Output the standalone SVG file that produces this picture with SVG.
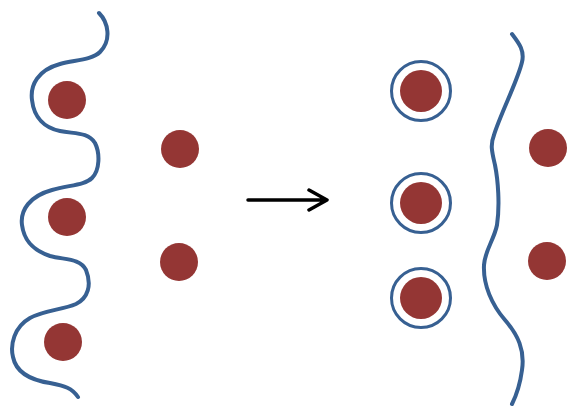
<svg xmlns="http://www.w3.org/2000/svg" width="571" height="410" viewBox="0 0 571 410">
<style>
.dot{fill:#943634}
.ring{fill:none;stroke:#376092;stroke-width:3}
.wave{fill:none;stroke:#376092;stroke-width:4;stroke-linecap:round}
.arr{fill:none;stroke:#000;stroke-width:3.5;stroke-linecap:round;stroke-linejoin:round}
</style>
<rect width="571" height="410" fill="#fff"/>
<g id="left-membrane">
<path class="wave" d="M99,13 C108,22 112,40 100,52 C92,60 75,60 60,64 C38,70 30,85 32,100 C34,118 45,128 60,131 C75,134 88,132 95,143 C100,153 100,170 92,178 C85,185 70,185 52,190 C30,196 20,210 22,225 C24,240 32,250 50,256 C65,260 80,258 86,270 C92,285 88,298 76,304 C62,310 45,310 30,318 C14,327 10,345 13,357 C16,372 30,380 50,383 C65,386 72,388 78,397"/>
</g>
<g id="left-dot-1"><circle class="dot" cx="67" cy="100" r="19"/></g>
<g id="left-dot-2"><circle class="dot" cx="67" cy="217" r="19"/></g>
<g id="left-dot-3"><circle class="dot" cx="63" cy="342" r="19"/></g>
<g id="mid-dot-1"><circle class="dot" cx="180" cy="149" r="19"/></g>
<g id="mid-dot-2"><circle class="dot" cx="179" cy="262" r="19"/></g>
<g id="connectors">
<path class="arr" d="M248,200 H326 M309,190 L327,200 L309,210"/>
</g>
<g id="ringed-dot-1"><circle class="ring" cx="421" cy="91" r="29.5"/><circle class="dot" cx="421" cy="91" r="21"/></g>
<g id="ringed-dot-2"><circle class="ring" cx="421" cy="203" r="29.5"/><circle class="dot" cx="421" cy="203" r="21"/></g>
<g id="ringed-dot-3"><circle class="ring" cx="421" cy="298" r="29.5"/><circle class="dot" cx="421" cy="298" r="21"/></g>
<g id="right-membrane">
<path class="wave" d="M512,34 C518,42 525,50 522,62 C518,80 500,115 494,135 C490,145 492,152 495,165 C498,180 500,205 497,225 C494,240 485,250 484,265 C483,285 492,305 505,320 C518,335 525,350 522,370 C520,385 515,398 512,404"/>
</g>
<g id="right-dot-1"><circle class="dot" cx="548" cy="148" r="19"/></g>
<g id="right-dot-2"><circle class="dot" cx="547" cy="261" r="19"/></g>
</svg>
